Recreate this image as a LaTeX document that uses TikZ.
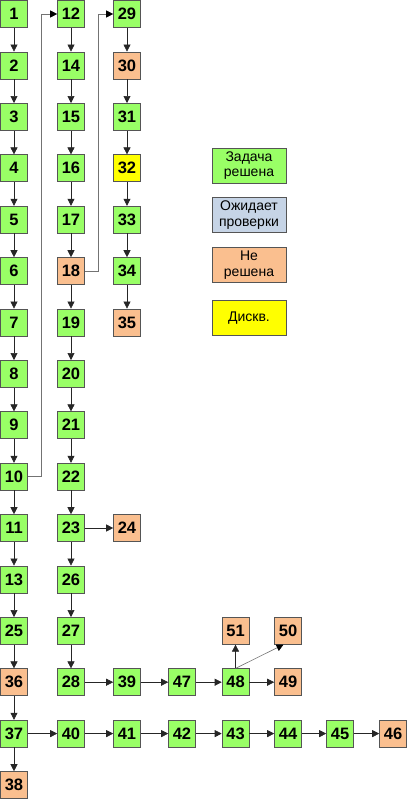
\documentclass[tikz,border=0pt]{standalone}
\usepackage{fontspec}
\setmainfont{Liberation Sans}
\usetikzlibrary{arrows.meta}
\definecolor{gok}{HTML}{99FF66}
\definecolor{gno}{HTML}{FABF8F}
\definecolor{gwait}{HTML}{C6D4E6}
\definecolor{gdq}{HTML}{FFFF00}
\definecolor{bord}{HTML}{555555}
\tikzset{
  task/.style={draw=bord, line width=0.6pt, minimum width=27pt, minimum height=27pt, inner sep=0pt, font=\fontsize{16.5}{18}\selectfont\bfseries},
  ok/.style={task, fill=gok},
  no/.style={task, fill=gno},
  dq/.style={task, fill=gdq},
  leg/.style={draw=bord, line width=0.6pt, minimum width=74pt, minimum height=35pt, inner sep=0pt, align=center, font=\fontsize{14}{15.5}\selectfont},
  arr/.style={draw=black!85, line width=0.6pt, -{Triangle[length=7pt,width=7pt]}},
  arrg/.style={draw=black!55, line width=0.6pt, -{Triangle[length=7pt,width=7pt,fill=black,color=black]}},
}
\begin{document}
\begin{tikzpicture}[x=1pt,y=-1pt]
\useasboundingbox (0,0) rectangle (408,800);
\def\ra{14}\def\rb{65.4}\def\rc{116.8}\def\rd{168.2}\def\re{219.6}\def\rf{271}\def\rg{322.4}\def\rh{373.8}
\def\ri{425.2}\def\rj{476.6}\def\rk{528}\def\rl{579.4}\def\rm{630.8}\def\rn{682.2}\def\ro{733.6}\def\rp{785}
% column 1
\node[ok] (n1) at (14,\ra) {1};
\node[ok] (n2) at (14,\rb) {2};
\node[ok] (n3) at (14,\rc) {3};
\node[ok] (n4) at (14,\rd) {4};
\node[ok] (n5) at (14,\re) {5};
\node[ok] (n6) at (14,\rf) {6};
\node[ok] (n7) at (14,\rg) {7};
\node[ok] (n8) at (14,\rh) {8};
\node[ok] (n9) at (14,\ri) {9};
\node[ok] (n10) at (14,\rj) {10};
\node[ok] (n11) at (14,\rk) {11};
\node[ok] (n13) at (14,\rl) {13};
\node[ok] (n25) at (14,\rm) {25};
\node[no] (n36) at (14,\rn) {36};
\node[ok] (n37) at (14,\ro) {37};
\node[no] (n38) at (14,\rp) {38};
% column 2
\node[ok] (n12) at (71,\ra) {12};
\node[ok] (n14) at (71,\rb) {14};
\node[ok] (n15) at (71,\rc) {15};
\node[ok] (n16) at (71,\rd) {16};
\node[ok] (n17) at (71,\re) {17};
\node[no] (n18) at (71,\rf) {18};
\node[ok] (n19) at (71,\rg) {19};
\node[ok] (n20) at (71,\rh) {20};
\node[ok] (n21) at (71,\ri) {21};
\node[ok] (n22) at (71,\rj) {22};
\node[ok] (n23) at (71,\rk) {23};
\node[ok] (n26) at (71,\rl) {26};
\node[ok] (n27) at (71,\rm) {27};
\node[ok] (n28) at (71,\rn) {28};
\node[ok] (n40) at (71,\ro) {40};
% column 3
\node[ok] (n29) at (127,\ra) {29};
\node[no] (n30) at (127,\rb) {30};
\node[ok] (n31) at (127,\rc) {31};
\node[dq] (n32) at (127,\rd) {32};
\node[ok] (n33) at (127,\re) {33};
\node[ok] (n34) at (127,\rf) {34};
\node[no] (n35) at (127,\rg) {35};
\node[no] (n24) at (127,\rk) {24};
\node[ok] (n39) at (127,\rn) {39};
\node[ok] (n41) at (127,\ro) {41};
% bottom rows
\node[ok] (n47) at (182,\rn) {47};
\node[ok] (n48) at (235.5,\rn) {48};
\node[no] (n49) at (288,\rn) {49};
\node[no] (n51) at (235.5,\rm) {51};
\node[no] (n50) at (288,\rm) {50};
\node[ok] (n42) at (182,\ro) {42};
\node[ok] (n43) at (235.5,\ro) {43};
\node[ok] (n44) at (288,\ro) {44};
\node[ok] (n45) at (340,\ro) {45};
\node[no] (n46) at (393,\ro) {46};
% legend
\node[leg, fill=gok] (l1) at (249,165.5) {Задача\\решена};
\node[leg, fill=gwait] (l2) at (249,215) {Ожидает\\проверки};
\node[leg, fill=gno] (l3) at (249,265) {Не\\решена};
\node[leg, fill=gdq] (l4) at (249,318) {Дискв.};
% arrows
\foreach \a/\b in {1/2,2/3,3/4,4/5,5/6,6/7,7/8,8/9,9/10,10/11,11/13,13/25,25/36,36/37,37/38,
  12/14,14/15,15/16,16/17,17/18,18/19,19/20,20/21,21/22,22/23,23/26,26/27,27/28,
  29/30,30/31,31/32,32/33,33/34,34/35,
  23/24,28/39,39/47,47/48,48/49,48/51,
  37/40,40/41,41/42,42/43,43/44,44/45,45/46}
  \draw[arr] (n\a) -- (n\b);
\draw[arrg] (n10.east) -- ++(13,0) |- (n12.west);
\draw[arrg] (n18.east) -- ++(13,0) |- (n29.west);
\draw[arrg] (n48.north) -- ([xshift=-4.5pt]n50.south);
\end{tikzpicture}
\end{document}
